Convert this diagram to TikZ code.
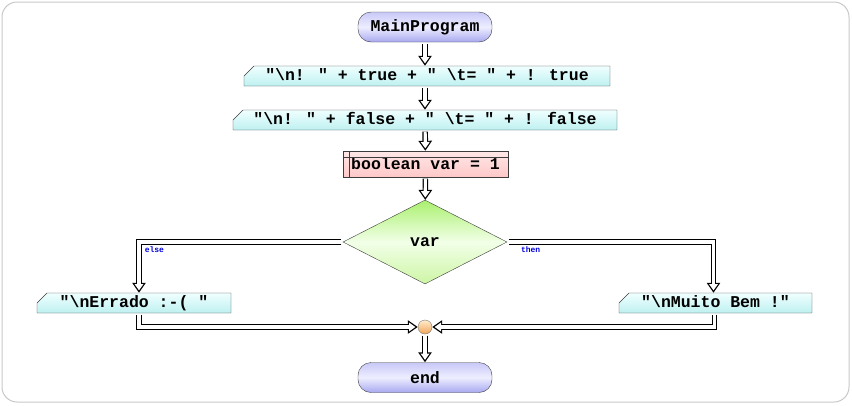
\documentclass[tikz,border=0pt]{standalone}
\usepackage{fontspec}
\usepackage{tikz}
\usetikzlibrary{positioning, shapes.geometric, shapes.misc, arrows.meta}
\newfontfamily\flowfont{Liberation Mono}
\definecolor{edge}{RGB}{60,60,60}
\definecolor{framegray}{RGB}{200,200,200}
\definecolor{pillA}{RGB}{200,200,248}
\definecolor{pillC}{RGB}{238,238,255}
\definecolor{pillB}{RGB}{168,168,240}
\definecolor{ioA}{RGB}{240,255,255}
\definecolor{ioB}{RGB}{190,240,240}
\definecolor{declA}{RGB}{255,232,232}
\definecolor{declB}{RGB}{255,200,200}
\definecolor{ifA}{RGB}{170,240,110}
\definecolor{ifC}{RGB}{242,255,232}
\definecolor{ifB}{RGB}{205,245,165}
\definecolor{joinA}{RGB}{255,236,205}
\definecolor{joinB}{RGB}{240,165,90}
\definecolor{lblblue}{RGB}{0,0,220}

\begin{document}
\begin{tikzpicture}[x=1pt, y=-1pt,
	pill/.style = {draw=edge, rectangle, rounded corners=13pt, minimum width=134pt, minimum height=30pt, top color=pillA, bottom color=pillB, middle color=pillC, font=\flowfont\bfseries\fontsize{16.5}{16.5}\selectfont},
	io/.style = {draw=edge, chamfered rectangle, chamfered rectangle corners=north west, chamfered rectangle xsep=6pt, chamfered rectangle ysep=5pt, minimum height=20pt, inner sep=0pt, text height=9pt, text depth=1pt, top color=ioA, bottom color=ioB, font=\flowfont\bfseries\fontsize{16.5}{16.5}\selectfont},
	decl/.style = {draw=edge, rectangle, minimum width=165pt, minimum height=26pt, inner sep=0pt, top color=declA, bottom color=declB, font=\flowfont\bfseries\fontsize{16.5}{16.5}\selectfont},
	cond/.style = {draw=edge, diamond, aspect=2, minimum width=164pt, minimum height=84pt, inner sep=0pt, top color=ifA, bottom color=ifB, middle color=ifC, font=\flowfont\bfseries\fontsize{16.5}{16.5}\selectfont},
	joint/.style = {draw=edge!70, circle, minimum size=14pt, inner sep=0pt, top color=joinA, bottom color=joinB},
	flow/.style = {draw=black, line width=5.6pt, shorten <=1.5pt, -{Triangle[length=10pt, width=13pt]},
		postaction={draw=white, line width=3.2pt, shorten <=1.5pt, shorten >=2.4pt, -{Triangle[length=6.4pt, width=8.6pt]}}},
	lbl/.style = {text=lblblue, inner sep=1pt, font=\flowfont\bfseries\fontsize{8}{8}\selectfont}]
	\useasboundingbox (0,0) rectangle (852,405);
	\draw[framegray, line width=1pt, rounded corners=15pt] (2,2) rectangle (849,402);
	\node[pill] (main) at (425,27) {MainProgram};
	\node[io, minimum width=366pt] (t1) at (427,76) {"\textbackslash n! " + true + " \textbackslash t= " + ! true};
	\node[io, minimum width=384pt] (t2) at (425,120) {"\textbackslash n! " + false + " \textbackslash t= " + ! false};
	\node[decl] (var) at (425.5,164) {\raisebox{-3pt}{boolean var = 1}};
	\node[cond] (dec) at (425,242) {var};
	\node[io, minimum width=194pt] (err) at (134,303) {"\textbackslash nErrado :-( "};
	\node[io, minimum width=193pt] (ok) at (715.5,303) {"\textbackslash nMuito Bem !"};
	\node[joint] (join) at (425,327) {};
	\node[pill] (end) at (425,377.5) {end};
	\draw[edge] ([xshift=6pt]var.north west) -- ([xshift=6pt]var.south west);
	\draw[edge] ([yshift=-6pt]var.north west) -- ([yshift=-6pt]var.north east);
	\draw[flow] (main) -- (main |- t1.north);
	\draw[flow] (t1.south -| main) -- (main |- t2.north);
	\draw[flow] (t2) -- (var);
	\draw[flow] (var) -- (dec);
	\draw[flow] (dec.west) -| ([xshift=5pt]err.north) node[lbl, pos=0.5, below right, xshift=2pt, yshift=-1pt] {else};
	\draw[flow] (dec.east) -| ([xshift=-2pt]ok.north) node[lbl, pos=0, below right, xshift=10pt, yshift=-1pt] {then};
	\draw[flow] ([xshift=5pt]err.south) |- (join);
	\draw[flow] ([xshift=-1pt]ok.south) |- (join);
	\draw[flow] (join) -- (end);
\end{tikzpicture}
\end{document}
